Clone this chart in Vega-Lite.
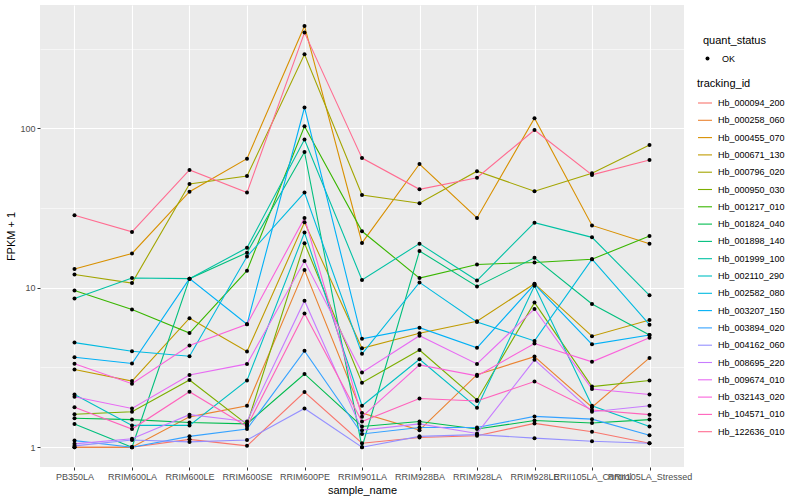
{
"$schema": "https://vega.github.io/schema/vega-lite/v6.json",
"width": 644, "height": 462,
"autosize": {"type": "none"},
"padding": {"left": 40, "top": 5, "right": 116, "bottom": 33},
"background": "white",
"config": {
 "view": {"fill": "#EBEBEB", "stroke": null},
 "font": "Liberation Sans",
 "axis": {"labelFont": "Liberation Sans", "titleFont": "Liberation Sans", "labelFontSize": 9, "labelColor": "#4D4D4D", "tickColor": "#333333", "tickSize": 3, "labelPadding": 2, "domain": false, "gridColor": "white", "titleFontWeight": "normal", "titleFontSize": 11, "titleColor": "black"},
 "legend": {"labelFont": "Liberation Sans", "titleFont": "Liberation Sans", "labelFontSize": 9, "titleFontSize": 11, "titleFontWeight": "normal", "labelColor": "black", "titleColor": "black"}
},
"data": {"values": [
{"sample_name":"PB350LA","tracking_id":"Hb_000094_200","fpkm":1.0,"quant_status":"OK"},
{"sample_name":"RRIM600LA","tracking_id":"Hb_000094_200","fpkm":1.0,"quant_status":"OK"},
{"sample_name":"RRIM600LE","tracking_id":"Hb_000094_200","fpkm":1.12,"quant_status":"OK"},
{"sample_name":"RRIM600SE","tracking_id":"Hb_000094_200","fpkm":1.02,"quant_status":"OK"},
{"sample_name":"RRIM600PE","tracking_id":"Hb_000094_200","fpkm":2.22,"quant_status":"OK"},
{"sample_name":"RRIM901LA","tracking_id":"Hb_000094_200","fpkm":1.06,"quant_status":"OK"},
{"sample_name":"RRIM928BA","tracking_id":"Hb_000094_200","fpkm":1.15,"quant_status":"OK"},
{"sample_name":"RRIM928LA","tracking_id":"Hb_000094_200","fpkm":1.18,"quant_status":"OK"},
{"sample_name":"RRIM928LE","tracking_id":"Hb_000094_200","fpkm":1.41,"quant_status":"OK"},
{"sample_name":"RRII105LA_Control","tracking_id":"Hb_000094_200","fpkm":1.25,"quant_status":"OK"},
{"sample_name":"RRII105LA_Stressed","tracking_id":"Hb_000094_200","fpkm":1.06,"quant_status":"OK"},
{"sample_name":"PB350LA","tracking_id":"Hb_000258_060","fpkm":1.0,"quant_status":"OK"},
{"sample_name":"RRIM600LA","tracking_id":"Hb_000258_060","fpkm":1.0,"quant_status":"OK"},
{"sample_name":"RRIM600LE","tracking_id":"Hb_000258_060","fpkm":1.55,"quant_status":"OK"},
{"sample_name":"RRIM600SE","tracking_id":"Hb_000258_060","fpkm":1.82,"quant_status":"OK"},
{"sample_name":"RRIM600PE","tracking_id":"Hb_000258_060","fpkm":12.9,"quant_status":"OK"},
{"sample_name":"RRIM901LA","tracking_id":"Hb_000258_060","fpkm":1.64,"quant_status":"OK"},
{"sample_name":"RRIM928BA","tracking_id":"Hb_000258_060","fpkm":1.28,"quant_status":"OK"},
{"sample_name":"RRIM928LA","tracking_id":"Hb_000258_060","fpkm":2.85,"quant_status":"OK"},
{"sample_name":"RRIM928LE","tracking_id":"Hb_000258_060","fpkm":3.7,"quant_status":"OK"},
{"sample_name":"RRII105LA_Control","tracking_id":"Hb_000258_060","fpkm":1.78,"quant_status":"OK"},
{"sample_name":"RRII105LA_Stressed","tracking_id":"Hb_000258_060","fpkm":3.63,"quant_status":"OK"},
{"sample_name":"PB350LA","tracking_id":"Hb_000455_070","fpkm":13.1,"quant_status":"OK"},
{"sample_name":"RRIM600LA","tracking_id":"Hb_000455_070","fpkm":16.4,"quant_status":"OK"},
{"sample_name":"RRIM600LE","tracking_id":"Hb_000455_070","fpkm":40,"quant_status":"OK"},
{"sample_name":"RRIM600SE","tracking_id":"Hb_000455_070","fpkm":64.5,"quant_status":"OK"},
{"sample_name":"RRIM600PE","tracking_id":"Hb_000455_070","fpkm":438,"quant_status":"OK"},
{"sample_name":"RRIM901LA","tracking_id":"Hb_000455_070","fpkm":19.1,"quant_status":"OK"},
{"sample_name":"RRIM928BA","tracking_id":"Hb_000455_070","fpkm":59.7,"quant_status":"OK"},
{"sample_name":"RRIM928LA","tracking_id":"Hb_000455_070","fpkm":27.4,"quant_status":"OK"},
{"sample_name":"RRIM928LE","tracking_id":"Hb_000455_070","fpkm":115.6,"quant_status":"OK"},
{"sample_name":"RRII105LA_Control","tracking_id":"Hb_000455_070","fpkm":24.6,"quant_status":"OK"},
{"sample_name":"RRII105LA_Stressed","tracking_id":"Hb_000455_070","fpkm":18.9,"quant_status":"OK"},
{"sample_name":"PB350LA","tracking_id":"Hb_000671_130","fpkm":3.07,"quant_status":"OK"},
{"sample_name":"RRIM600LA","tracking_id":"Hb_000671_130","fpkm":2.6,"quant_status":"OK"},
{"sample_name":"RRIM600LE","tracking_id":"Hb_000671_130","fpkm":6.44,"quant_status":"OK"},
{"sample_name":"RRIM600SE","tracking_id":"Hb_000671_130","fpkm":3.98,"quant_status":"OK"},
{"sample_name":"RRIM600PE","tracking_id":"Hb_000671_130","fpkm":25.7,"quant_status":"OK"},
{"sample_name":"RRIM901LA","tracking_id":"Hb_000671_130","fpkm":4.17,"quant_status":"OK"},
{"sample_name":"RRIM928BA","tracking_id":"Hb_000671_130","fpkm":5.19,"quant_status":"OK"},
{"sample_name":"RRIM928LA","tracking_id":"Hb_000671_130","fpkm":6.17,"quant_status":"OK"},
{"sample_name":"RRIM928LE","tracking_id":"Hb_000671_130","fpkm":10.6,"quant_status":"OK"},
{"sample_name":"RRII105LA_Control","tracking_id":"Hb_000671_130","fpkm":4.97,"quant_status":"OK"},
{"sample_name":"RRII105LA_Stressed","tracking_id":"Hb_000671_130","fpkm":6.28,"quant_status":"OK"},
{"sample_name":"PB350LA","tracking_id":"Hb_000796_020","fpkm":12.1,"quant_status":"OK"},
{"sample_name":"RRIM600LA","tracking_id":"Hb_000796_020","fpkm":10.7,"quant_status":"OK"},
{"sample_name":"RRIM600LE","tracking_id":"Hb_000796_020","fpkm":44.8,"quant_status":"OK"},
{"sample_name":"RRIM600SE","tracking_id":"Hb_000796_020","fpkm":50.2,"quant_status":"OK"},
{"sample_name":"RRIM600PE","tracking_id":"Hb_000796_020","fpkm":291,"quant_status":"OK"},
{"sample_name":"RRIM901LA","tracking_id":"Hb_000796_020","fpkm":38.2,"quant_status":"OK"},
{"sample_name":"RRIM928BA","tracking_id":"Hb_000796_020","fpkm":33.9,"quant_status":"OK"},
{"sample_name":"RRIM928LA","tracking_id":"Hb_000796_020","fpkm":53.8,"quant_status":"OK"},
{"sample_name":"RRIM928LE","tracking_id":"Hb_000796_020","fpkm":40.3,"quant_status":"OK"},
{"sample_name":"RRII105LA_Control","tracking_id":"Hb_000796_020","fpkm":52.2,"quant_status":"OK"},
{"sample_name":"RRII105LA_Stressed","tracking_id":"Hb_000796_020","fpkm":78.6,"quant_status":"OK"},
{"sample_name":"PB350LA","tracking_id":"Hb_000950_030","fpkm":1.61,"quant_status":"OK"},
{"sample_name":"RRIM600LA","tracking_id":"Hb_000950_030","fpkm":1.67,"quant_status":"OK"},
{"sample_name":"RRIM600LE","tracking_id":"Hb_000950_030","fpkm":2.64,"quant_status":"OK"},
{"sample_name":"RRIM600SE","tracking_id":"Hb_000950_030","fpkm":1.39,"quant_status":"OK"},
{"sample_name":"RRIM600PE","tracking_id":"Hb_000950_030","fpkm":19,"quant_status":"OK"},
{"sample_name":"RRIM901LA","tracking_id":"Hb_000950_030","fpkm":2.54,"quant_status":"OK"},
{"sample_name":"RRIM928BA","tracking_id":"Hb_000950_030","fpkm":4.07,"quant_status":"OK"},
{"sample_name":"RRIM928LA","tracking_id":"Hb_000950_030","fpkm":1.98,"quant_status":"OK"},
{"sample_name":"RRIM928LE","tracking_id":"Hb_000950_030","fpkm":8.07,"quant_status":"OK"},
{"sample_name":"RRII105LA_Control","tracking_id":"Hb_000950_030","fpkm":2.4,"quant_status":"OK"},
{"sample_name":"RRII105LA_Stressed","tracking_id":"Hb_000950_030","fpkm":2.62,"quant_status":"OK"},
{"sample_name":"PB350LA","tracking_id":"Hb_001217_010","fpkm":9.6,"quant_status":"OK"},
{"sample_name":"RRIM600LA","tracking_id":"Hb_001217_010","fpkm":7.3,"quant_status":"OK"},
{"sample_name":"RRIM600LE","tracking_id":"Hb_001217_010","fpkm":5.2,"quant_status":"OK"},
{"sample_name":"RRIM600SE","tracking_id":"Hb_001217_010","fpkm":12.8,"quant_status":"OK"},
{"sample_name":"RRIM600PE","tracking_id":"Hb_001217_010","fpkm":103,"quant_status":"OK"},
{"sample_name":"RRIM901LA","tracking_id":"Hb_001217_010","fpkm":22.6,"quant_status":"OK"},
{"sample_name":"RRIM928BA","tracking_id":"Hb_001217_010","fpkm":11.5,"quant_status":"OK"},
{"sample_name":"RRIM928LA","tracking_id":"Hb_001217_010","fpkm":14,"quant_status":"OK"},
{"sample_name":"RRIM928LE","tracking_id":"Hb_001217_010","fpkm":14.4,"quant_status":"OK"},
{"sample_name":"RRII105LA_Control","tracking_id":"Hb_001217_010","fpkm":15.1,"quant_status":"OK"},
{"sample_name":"RRII105LA_Stressed","tracking_id":"Hb_001217_010","fpkm":21.1,"quant_status":"OK"},
{"sample_name":"PB350LA","tracking_id":"Hb_001824_040","fpkm":1.52,"quant_status":"OK"},
{"sample_name":"RRIM600LA","tracking_id":"Hb_001824_040","fpkm":1.49,"quant_status":"OK"},
{"sample_name":"RRIM600LE","tracking_id":"Hb_001824_040","fpkm":1.43,"quant_status":"OK"},
{"sample_name":"RRIM600SE","tracking_id":"Hb_001824_040","fpkm":1.4,"quant_status":"OK"},
{"sample_name":"RRIM600PE","tracking_id":"Hb_001824_040","fpkm":2.88,"quant_status":"OK"},
{"sample_name":"RRIM901LA","tracking_id":"Hb_001824_040","fpkm":1.35,"quant_status":"OK"},
{"sample_name":"RRIM928BA","tracking_id":"Hb_001824_040","fpkm":1.45,"quant_status":"OK"},
{"sample_name":"RRIM928LA","tracking_id":"Hb_001824_040","fpkm":1.3,"quant_status":"OK"},
{"sample_name":"RRIM928LE","tracking_id":"Hb_001824_040","fpkm":1.47,"quant_status":"OK"},
{"sample_name":"RRII105LA_Control","tracking_id":"Hb_001824_040","fpkm":1.42,"quant_status":"OK"},
{"sample_name":"RRII105LA_Stressed","tracking_id":"Hb_001824_040","fpkm":1.49,"quant_status":"OK"},
{"sample_name":"PB350LA","tracking_id":"Hb_001898_140","fpkm":1.4,"quant_status":"OK"},
{"sample_name":"RRIM600LA","tracking_id":"Hb_001898_140","fpkm":1.0,"quant_status":"OK"},
{"sample_name":"RRIM600LE","tracking_id":"Hb_001898_140","fpkm":11.4,"quant_status":"OK"},
{"sample_name":"RRIM600SE","tracking_id":"Hb_001898_140","fpkm":16.6,"quant_status":"OK"},
{"sample_name":"RRIM600PE","tracking_id":"Hb_001898_140","fpkm":71,"quant_status":"OK"},
{"sample_name":"RRIM901LA","tracking_id":"Hb_001898_140","fpkm":1.0,"quant_status":"OK"},
{"sample_name":"RRIM928BA","tracking_id":"Hb_001898_140","fpkm":17,"quant_status":"OK"},
{"sample_name":"RRIM928LA","tracking_id":"Hb_001898_140","fpkm":10.2,"quant_status":"OK"},
{"sample_name":"RRIM928LE","tracking_id":"Hb_001898_140","fpkm":15.4,"quant_status":"OK"},
{"sample_name":"RRII105LA_Control","tracking_id":"Hb_001898_140","fpkm":7.91,"quant_status":"OK"},
{"sample_name":"RRII105LA_Stressed","tracking_id":"Hb_001898_140","fpkm":5.06,"quant_status":"OK"},
{"sample_name":"PB350LA","tracking_id":"Hb_001999_100","fpkm":8.55,"quant_status":"OK"},
{"sample_name":"RRIM600LA","tracking_id":"Hb_001999_100","fpkm":11.5,"quant_status":"OK"},
{"sample_name":"RRIM600LE","tracking_id":"Hb_001999_100","fpkm":11.4,"quant_status":"OK"},
{"sample_name":"RRIM600SE","tracking_id":"Hb_001999_100","fpkm":17.8,"quant_status":"OK"},
{"sample_name":"RRIM600PE","tracking_id":"Hb_001999_100","fpkm":85,"quant_status":"OK"},
{"sample_name":"RRIM901LA","tracking_id":"Hb_001999_100","fpkm":11.2,"quant_status":"OK"},
{"sample_name":"RRIM928BA","tracking_id":"Hb_001999_100","fpkm":18.9,"quant_status":"OK"},
{"sample_name":"RRIM928LA","tracking_id":"Hb_001999_100","fpkm":11.1,"quant_status":"OK"},
{"sample_name":"RRIM928LE","tracking_id":"Hb_001999_100","fpkm":25.6,"quant_status":"OK"},
{"sample_name":"RRII105LA_Control","tracking_id":"Hb_001999_100","fpkm":20.7,"quant_status":"OK"},
{"sample_name":"RRII105LA_Stressed","tracking_id":"Hb_001999_100","fpkm":8.97,"quant_status":"OK"},
{"sample_name":"PB350LA","tracking_id":"Hb_002110_290","fpkm":2.14,"quant_status":"OK"},
{"sample_name":"RRIM600LA","tracking_id":"Hb_002110_290","fpkm":1.37,"quant_status":"OK"},
{"sample_name":"RRIM600LE","tracking_id":"Hb_002110_290","fpkm":1.37,"quant_status":"OK"},
{"sample_name":"RRIM600SE","tracking_id":"Hb_002110_290","fpkm":2.62,"quant_status":"OK"},
{"sample_name":"RRIM600PE","tracking_id":"Hb_002110_290","fpkm":22.2,"quant_status":"OK"},
{"sample_name":"RRIM901LA","tracking_id":"Hb_002110_290","fpkm":1.82,"quant_status":"OK"},
{"sample_name":"RRIM928BA","tracking_id":"Hb_002110_290","fpkm":3.56,"quant_status":"OK"},
{"sample_name":"RRIM928LA","tracking_id":"Hb_002110_290","fpkm":1.77,"quant_status":"OK"},
{"sample_name":"RRIM928LE","tracking_id":"Hb_002110_290","fpkm":10.3,"quant_status":"OK"},
{"sample_name":"RRII105LA_Control","tracking_id":"Hb_002110_290","fpkm":1.82,"quant_status":"OK"},
{"sample_name":"RRII105LA_Stressed","tracking_id":"Hb_002110_290","fpkm":1.35,"quant_status":"OK"},
{"sample_name":"PB350LA","tracking_id":"Hb_002582_080","fpkm":4.53,"quant_status":"OK"},
{"sample_name":"RRIM600LA","tracking_id":"Hb_002582_080","fpkm":4.0,"quant_status":"OK"},
{"sample_name":"RRIM600LE","tracking_id":"Hb_002582_080","fpkm":3.72,"quant_status":"OK"},
{"sample_name":"RRIM600SE","tracking_id":"Hb_002582_080","fpkm":15.7,"quant_status":"OK"},
{"sample_name":"RRIM600PE","tracking_id":"Hb_002582_080","fpkm":39.5,"quant_status":"OK"},
{"sample_name":"RRIM901LA","tracking_id":"Hb_002582_080","fpkm":3.85,"quant_status":"OK"},
{"sample_name":"RRIM928BA","tracking_id":"Hb_002582_080","fpkm":10.8,"quant_status":"OK"},
{"sample_name":"RRIM928LA","tracking_id":"Hb_002582_080","fpkm":6.1,"quant_status":"OK"},
{"sample_name":"RRIM928LE","tracking_id":"Hb_002582_080","fpkm":4.64,"quant_status":"OK"},
{"sample_name":"RRII105LA_Control","tracking_id":"Hb_002582_080","fpkm":15.1,"quant_status":"OK"},
{"sample_name":"RRII105LA_Stressed","tracking_id":"Hb_002582_080","fpkm":5.87,"quant_status":"OK"},
{"sample_name":"PB350LA","tracking_id":"Hb_003207_150","fpkm":3.67,"quant_status":"OK"},
{"sample_name":"RRIM600LA","tracking_id":"Hb_003207_150","fpkm":3.35,"quant_status":"OK"},
{"sample_name":"RRIM600LE","tracking_id":"Hb_003207_150","fpkm":11.4,"quant_status":"OK"},
{"sample_name":"RRIM600SE","tracking_id":"Hb_003207_150","fpkm":5.9,"quant_status":"OK"},
{"sample_name":"RRIM600PE","tracking_id":"Hb_003207_150","fpkm":135,"quant_status":"OK"},
{"sample_name":"RRIM901LA","tracking_id":"Hb_003207_150","fpkm":4.78,"quant_status":"OK"},
{"sample_name":"RRIM928BA","tracking_id":"Hb_003207_150","fpkm":5.62,"quant_status":"OK"},
{"sample_name":"RRIM928LA","tracking_id":"Hb_003207_150","fpkm":4.2,"quant_status":"OK"},
{"sample_name":"RRIM928LE","tracking_id":"Hb_003207_150","fpkm":10.5,"quant_status":"OK"},
{"sample_name":"RRII105LA_Control","tracking_id":"Hb_003207_150","fpkm":4.42,"quant_status":"OK"},
{"sample_name":"RRII105LA_Stressed","tracking_id":"Hb_003207_150","fpkm":5.06,"quant_status":"OK"},
{"sample_name":"PB350LA","tracking_id":"Hb_003894_020","fpkm":1.1,"quant_status":"OK"},
{"sample_name":"RRIM600LA","tracking_id":"Hb_003894_020","fpkm":1.0,"quant_status":"OK"},
{"sample_name":"RRIM600LE","tracking_id":"Hb_003894_020","fpkm":1.17,"quant_status":"OK"},
{"sample_name":"RRIM600SE","tracking_id":"Hb_003894_020","fpkm":1.3,"quant_status":"OK"},
{"sample_name":"RRIM600PE","tracking_id":"Hb_003894_020","fpkm":4.02,"quant_status":"OK"},
{"sample_name":"RRIM901LA","tracking_id":"Hb_003894_020","fpkm":1.21,"quant_status":"OK"},
{"sample_name":"RRIM928BA","tracking_id":"Hb_003894_020","fpkm":1.33,"quant_status":"OK"},
{"sample_name":"RRIM928LA","tracking_id":"Hb_003894_020","fpkm":1.33,"quant_status":"OK"},
{"sample_name":"RRIM928LE","tracking_id":"Hb_003894_020","fpkm":1.56,"quant_status":"OK"},
{"sample_name":"RRII105LA_Control","tracking_id":"Hb_003894_020","fpkm":1.5,"quant_status":"OK"},
{"sample_name":"RRII105LA_Stressed","tracking_id":"Hb_003894_020","fpkm":1.19,"quant_status":"OK"},
{"sample_name":"PB350LA","tracking_id":"Hb_004162_060","fpkm":1.02,"quant_status":"OK"},
{"sample_name":"RRIM600LA","tracking_id":"Hb_004162_060","fpkm":1.11,"quant_status":"OK"},
{"sample_name":"RRIM600LE","tracking_id":"Hb_004162_060","fpkm":1.08,"quant_status":"OK"},
{"sample_name":"RRIM600SE","tracking_id":"Hb_004162_060","fpkm":1.11,"quant_status":"OK"},
{"sample_name":"RRIM600PE","tracking_id":"Hb_004162_060","fpkm":1.75,"quant_status":"OK"},
{"sample_name":"RRIM901LA","tracking_id":"Hb_004162_060","fpkm":1.0,"quant_status":"OK"},
{"sample_name":"RRIM928BA","tracking_id":"Hb_004162_060","fpkm":1.17,"quant_status":"OK"},
{"sample_name":"RRIM928LA","tracking_id":"Hb_004162_060","fpkm":1.2,"quant_status":"OK"},
{"sample_name":"RRIM928LE","tracking_id":"Hb_004162_060","fpkm":1.14,"quant_status":"OK"},
{"sample_name":"RRII105LA_Control","tracking_id":"Hb_004162_060","fpkm":1.09,"quant_status":"OK"},
{"sample_name":"RRII105LA_Stressed","tracking_id":"Hb_004162_060","fpkm":1.06,"quant_status":"OK"},
{"sample_name":"PB350LA","tracking_id":"Hb_008695_220","fpkm":1.05,"quant_status":"OK"},
{"sample_name":"RRIM600LA","tracking_id":"Hb_008695_220","fpkm":1.13,"quant_status":"OK"},
{"sample_name":"RRIM600LE","tracking_id":"Hb_008695_220","fpkm":1.6,"quant_status":"OK"},
{"sample_name":"RRIM600SE","tracking_id":"Hb_008695_220","fpkm":1.45,"quant_status":"OK"},
{"sample_name":"RRIM600PE","tracking_id":"Hb_008695_220","fpkm":8.3,"quant_status":"OK"},
{"sample_name":"RRIM901LA","tracking_id":"Hb_008695_220","fpkm":1.28,"quant_status":"OK"},
{"sample_name":"RRIM928BA","tracking_id":"Hb_008695_220","fpkm":1.4,"quant_status":"OK"},
{"sample_name":"RRIM928LA","tracking_id":"Hb_008695_220","fpkm":1.22,"quant_status":"OK"},
{"sample_name":"RRIM928LE","tracking_id":"Hb_008695_220","fpkm":3.53,"quant_status":"OK"},
{"sample_name":"RRII105LA_Control","tracking_id":"Hb_008695_220","fpkm":1.67,"quant_status":"OK"},
{"sample_name":"RRII105LA_Stressed","tracking_id":"Hb_008695_220","fpkm":1.82,"quant_status":"OK"},
{"sample_name":"PB350LA","tracking_id":"Hb_009674_010","fpkm":2.07,"quant_status":"OK"},
{"sample_name":"RRIM600LA","tracking_id":"Hb_009674_010","fpkm":1.75,"quant_status":"OK"},
{"sample_name":"RRIM600LE","tracking_id":"Hb_009674_010","fpkm":2.84,"quant_status":"OK"},
{"sample_name":"RRIM600SE","tracking_id":"Hb_009674_010","fpkm":3.33,"quant_status":"OK"},
{"sample_name":"RRIM600PE","tracking_id":"Hb_009674_010","fpkm":14.7,"quant_status":"OK"},
{"sample_name":"RRIM901LA","tracking_id":"Hb_009674_010","fpkm":2.94,"quant_status":"OK"},
{"sample_name":"RRIM928BA","tracking_id":"Hb_009674_010","fpkm":5.0,"quant_status":"OK"},
{"sample_name":"RRIM928LA","tracking_id":"Hb_009674_010","fpkm":3.33,"quant_status":"OK"},
{"sample_name":"RRIM928LE","tracking_id":"Hb_009674_010","fpkm":7.36,"quant_status":"OK"},
{"sample_name":"RRII105LA_Control","tracking_id":"Hb_009674_010","fpkm":2.32,"quant_status":"OK"},
{"sample_name":"RRII105LA_Stressed","tracking_id":"Hb_009674_010","fpkm":2.14,"quant_status":"OK"},
{"sample_name":"PB350LA","tracking_id":"Hb_032143_020","fpkm":3.34,"quant_status":"OK"},
{"sample_name":"RRIM600LA","tracking_id":"Hb_032143_020","fpkm":2.5,"quant_status":"OK"},
{"sample_name":"RRIM600LE","tracking_id":"Hb_032143_020","fpkm":4.34,"quant_status":"OK"},
{"sample_name":"RRIM600SE","tracking_id":"Hb_032143_020","fpkm":5.9,"quant_status":"OK"},
{"sample_name":"RRIM600PE","tracking_id":"Hb_032143_020","fpkm":27.4,"quant_status":"OK"},
{"sample_name":"RRIM901LA","tracking_id":"Hb_032143_020","fpkm":1.55,"quant_status":"OK"},
{"sample_name":"RRIM928BA","tracking_id":"Hb_032143_020","fpkm":3.28,"quant_status":"OK"},
{"sample_name":"RRIM928LA","tracking_id":"Hb_032143_020","fpkm":2.8,"quant_status":"OK"},
{"sample_name":"RRIM928LE","tracking_id":"Hb_032143_020","fpkm":4.47,"quant_status":"OK"},
{"sample_name":"RRII105LA_Control","tracking_id":"Hb_032143_020","fpkm":3.43,"quant_status":"OK"},
{"sample_name":"RRII105LA_Stressed","tracking_id":"Hb_032143_020","fpkm":4.86,"quant_status":"OK"},
{"sample_name":"PB350LA","tracking_id":"Hb_104571_010","fpkm":1.78,"quant_status":"OK"},
{"sample_name":"RRIM600LA","tracking_id":"Hb_104571_010","fpkm":1.3,"quant_status":"OK"},
{"sample_name":"RRIM600LE","tracking_id":"Hb_104571_010","fpkm":2.23,"quant_status":"OK"},
{"sample_name":"RRIM600SE","tracking_id":"Hb_104571_010","fpkm":1.35,"quant_status":"OK"},
{"sample_name":"RRIM600PE","tracking_id":"Hb_104571_010","fpkm":6.9,"quant_status":"OK"},
{"sample_name":"RRIM901LA","tracking_id":"Hb_104571_010","fpkm":1.45,"quant_status":"OK"},
{"sample_name":"RRIM928BA","tracking_id":"Hb_104571_010","fpkm":2.02,"quant_status":"OK"},
{"sample_name":"RRIM928LA","tracking_id":"Hb_104571_010","fpkm":1.95,"quant_status":"OK"},
{"sample_name":"RRIM928LE","tracking_id":"Hb_104571_010","fpkm":2.58,"quant_status":"OK"},
{"sample_name":"RRII105LA_Control","tracking_id":"Hb_104571_010","fpkm":1.71,"quant_status":"OK"},
{"sample_name":"RRII105LA_Stressed","tracking_id":"Hb_104571_010","fpkm":1.6,"quant_status":"OK"},
{"sample_name":"PB350LA","tracking_id":"Hb_122636_010","fpkm":28.5,"quant_status":"OK"},
{"sample_name":"RRIM600LA","tracking_id":"Hb_122636_010","fpkm":22.4,"quant_status":"OK"},
{"sample_name":"RRIM600LE","tracking_id":"Hb_122636_010","fpkm":54.8,"quant_status":"OK"},
{"sample_name":"RRIM600SE","tracking_id":"Hb_122636_010","fpkm":39.5,"quant_status":"OK"},
{"sample_name":"RRIM600PE","tracking_id":"Hb_122636_010","fpkm":398,"quant_status":"OK"},
{"sample_name":"RRIM901LA","tracking_id":"Hb_122636_010","fpkm":65,"quant_status":"OK"},
{"sample_name":"RRIM928BA","tracking_id":"Hb_122636_010","fpkm":41.4,"quant_status":"OK"},
{"sample_name":"RRIM928LA","tracking_id":"Hb_122636_010","fpkm":49,"quant_status":"OK"},
{"sample_name":"RRIM928LE","tracking_id":"Hb_122636_010","fpkm":97.6,"quant_status":"OK"},
{"sample_name":"RRII105LA_Control","tracking_id":"Hb_122636_010","fpkm":51,"quant_status":"OK"},
{"sample_name":"RRII105LA_Stressed","tracking_id":"Hb_122636_010","fpkm":63.3,"quant_status":"OK"}
]},
"layer": [
 {"mark": {"type": "line", "strokeWidth": 1.1},
  "encoding": {
   "x": {"field": "sample_name", "type": "nominal", "sort": ["PB350LA","RRIM600LA","RRIM600LE","RRIM600SE","RRIM600PE","RRIM901LA","RRIM928BA","RRIM928LA","RRIM928LE","RRII105LA_Control","RRII105LA_Stressed"], "scale": {"type": "point", "padding": 0.6}, "axis": {"title": "sample_name", "labelAngle": 0, "labelOverlap": false, "grid": true, "gridWidth": 1.1, "titlePadding": 3}},
   "y": {"field": "fpkm", "type": "quantitative", "scale": {"type": "log", "domain": [0.7516, 592.9], "nice": false}, "axis": {"orient": "left", "values": [3.1623, 31.623, 316.23], "grid": true, "gridWidth": 0.55, "labels": false, "ticks": false, "title": null, "domain": false}},
   "color": {"field": "tracking_id", "type": "nominal",
     "scale": {"domain": ["Hb_000094_200","Hb_000258_060","Hb_000455_070","Hb_000671_130","Hb_000796_020","Hb_000950_030","Hb_001217_010","Hb_001824_040","Hb_001898_140","Hb_001999_100","Hb_002110_290","Hb_002582_080","Hb_003207_150","Hb_003894_020","Hb_004162_060","Hb_008695_220","Hb_009674_010","Hb_032143_020","Hb_104571_010","Hb_122636_010"],
       "range": ["#F8766D","#EA8331","#D89000","#C09B00","#A3A500","#7CAE00","#39B600","#00BB4E","#00BF7D","#00C1A3","#00BFC4","#00BAE0","#00B0F6","#35A2FF","#9590FF","#C77CFF","#E76BF3","#FA62DB","#FF62BC","#FF6C91"]},
     "legend": {"title": "tracking_id", "orient": "none", "legendX": 657, "legendY": 73, "symbolType": "stroke", "symbolStrokeWidth": 1.1, "symbolSize": 196, "rowPadding": 4.3, "labelOffset": 5, "titlePadding": 6}}
  }},
 {"mark": {"type": "point", "filled": true, "size": 16, "color": "black", "opacity": 1},
  "encoding": {
   "x": {"field": "sample_name", "type": "nominal", "sort": ["PB350LA","RRIM600LA","RRIM600LE","RRIM600SE","RRIM600PE","RRIM901LA","RRIM928BA","RRIM928LA","RRIM928LE","RRII105LA_Control","RRII105LA_Stressed"], "scale": {"type": "point", "padding": 0.6}},
   "y": {"field": "fpkm", "type": "quantitative", "scale": {"type": "log", "domain": [0.7516, 592.9], "nice": false}, "axis": {"orient": "left", "values": [1, 10, 100], "format": "d", "grid": true, "gridWidth": 1.1, "title": "FPKM + 1", "titlePadding": 3}},
   "shape": {"field": "quant_status", "type": "nominal", "scale": {"range": ["circle"]}, "legend": {"title": "quant_status", "orient": "none", "legendX": 663, "legendY": 30, "symbolSize": 16, "labelOffset": 10, "titlePadding": 8}}
  }}
],
"resolve": {"axis": {"y": "independent"}}
}
